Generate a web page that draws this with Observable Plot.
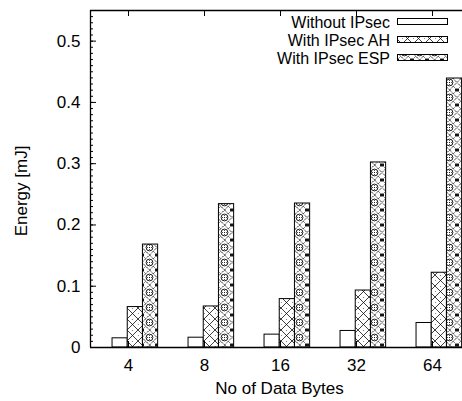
<!DOCTYPE html>
<html><head><meta charset="utf-8">
<script src="https://cdn.jsdelivr.net/npm/d3@7"></script>
<script src="https://cdn.jsdelivr.net/npm/@observablehq/plot@0.6"></script>
<style>
body{margin:0;background:#fff}
#chart{width:462px;height:401px;overflow:hidden;position:relative}
</style>
</head><body><div id="chart"></div>
<script>
const categories = ["4", "8", "16", "32", "64"];
const seriesNames = ["Without IPsec", "With IPsec AH", "With IPsec ESP"];
const withoutIPsec = [0.015, 0.016, 0.021, 0.027, 0.040];
const withAH = [0.066, 0.067, 0.079, 0.093, 0.122];
const withESP = [0.168, 0.234, 0.235, 0.302, 0.439];
const yTicks = [0, 0.1, 0.2, 0.3, 0.4, 0.5];
const xTitle = "No of Data Bytes";
const yTitle = "Energy [mJ]";

const seriesValues = [withoutIPsec, withAH, withESP];
const fills = ["#fff", "url(#pat-ah)", "url(#pat-esp)"];
const barWidth = 0.2, barStart = -0.21;
const catIdx = categories.map((c, i) => i);
const minorTicks = d3.range(0, 56).map(k => k / 100);
const FONT = "'Liberation Sans', Arial, Helvetica, sans-serif";

const barMarks = seriesValues.map((vals, j) =>
  Plot.rect(catIdx, {
    x1: i => i + barStart + j * barWidth,
    x2: i => i + barStart + (j + 1) * barWidth,
    y1: 0,
    y2: i => vals[i],
    fill: fills[j],
    stroke: "#000",
    strokeWidth: 1
  })
);

const plot = Plot.plot({
  width: 462, height: 401,
  marginLeft: 90, marginTop: 10, marginBottom: 54, marginRight: 0,
  style: {fontFamily: FONT, fontSize: "17px", color: "#000", background: "#fff", overflow: "visible"},
  x: {type: "linear", domain: [-0.5, 4.5], range: [90, 470]},
  y: {domain: [0, 0.55], range: [347, 10]},
  marks: [
    ...barMarks,
    Plot.ruleY(minorTicks, {x1: -0.5, x2: -0.5, insetRight: -3, stroke: "#000", strokeWidth: 1}),
    Plot.ruleY(yTicks, {x1: -0.5, x2: -0.5, insetRight: -6, stroke: "#000", strokeWidth: 1}),
    Plot.ruleX(catIdx, {y1: 0.55, y2: 0.55, insetBottom: -6, stroke: "#000", strokeWidth: 1}),
    Plot.ruleX(catIdx, {y1: 0, y2: 0, insetTop: -6, stroke: "#000", strokeWidth: 1}),
    Plot.ruleY([0, 0.55], {x1: -0.5, x2: 4.5, stroke: "#000", strokeWidth: 1.3}),
    Plot.ruleX([-0.5], {y1: 0, y2: 0.55, stroke: "#000", strokeWidth: 1.3}),
    Plot.axisY(yTicks, {tickSize: 0, tickPadding: 10, tickFormat: d => d === 0 ? "0" : d3.format(".1f")(d),
      label: null, fontSize: 17}),
    Plot.axisX(catIdx, {tickSize: 0, tickPadding: 11, tickFormat: i => categories[i],
      label: null, fontSize: 17}),
    Plot.text([yTitle], {text: d => d, frameAnchor: "left", textAnchor: "middle", lineAnchor: "middle",
      rotate: -90, dx: -69, dy: 12, fontSize: 17, fill: "#000"}),
    Plot.text([xTitle], {text: d => d, frameAnchor: "bottom", textAnchor: "middle", lineAnchor: "middle",
      dx: 3, dy: 41, fontSize: 17, fill: "#000"})
  ]
});

const svg = d3.select(plot);
const defs = svg.insert("defs", ":first-child");
const pa = defs.append("pattern").attr("id", "pat-ah").attr("patternUnits", "userSpaceOnUse")
  .attr("width", 11).attr("height", 11).attr("x", 127);
pa.append("rect").attr("width", 11).attr("height", 11).attr("fill", "#fff");
pa.append("path").attr("d", "M0,0L11,11M11,0L0,11").attr("stroke", "#000").attr("stroke-width", 0.75).attr("fill", "none");
pa.append("circle").attr("cx", 5.5).attr("cy", 0).attr("r", 0.6).attr("fill", "#000");
pa.append("circle").attr("cx", 0).attr("cy", 5.5).attr("r", 0.6).attr("fill", "#000");
const pe = defs.append("pattern").attr("id", "pat-esp").attr("patternUnits", "userSpaceOnUse")
  .attr("width", 15).attr("height", 15).attr("x", 142);
pe.append("rect").attr("width", 15).attr("height", 15).attr("fill", "#fff");
pe.append("path").attr("d", "M7.5,0L15,7.5L7.5,15L0,7.5Z M0,0L3.5,3.5 M15,0L11.5,3.5 M0,15L3.5,11.5 M15,15L11.5,11.5 M2,0L0,2 M13,0L15,2 M2,15L0,13 M13,15L15,13")
  .attr("stroke", "#000").attr("stroke-width", 1).attr("stroke-dasharray", "1.3,0.9").attr("fill", "none");
pe.append("circle").attr("cx", 7.5).attr("cy", 7.5).attr("r", 3.4).attr("stroke", "#000").attr("stroke-width", 0.9).attr("fill", "none");
pe.append("path").attr("d", "M7.5,5V10M5,7.5H10").attr("stroke", "#000").attr("stroke-width", 0.7).attr("stroke-dasharray", "1,1");

const legendRows = [28, 46, 64];
const lg = svg.append("g").attr("font-family", FONT).attr("font-size", 16);
seriesNames.forEach((name, j) => {
  lg.append("text").attr("x", 390).attr("y", legendRows[j]).attr("text-anchor", "end").attr("fill", "#000").text(name);
  lg.append("rect").attr("x", 397.5).attr("y", legendRows[j] - 9.5).attr("width", 50).attr("height", 6)
    .attr("fill", fills[j]).attr("stroke", "#000").attr("stroke-width", 1);
});

document.getElementById("chart").appendChild(plot);
</script>
</body></html>
